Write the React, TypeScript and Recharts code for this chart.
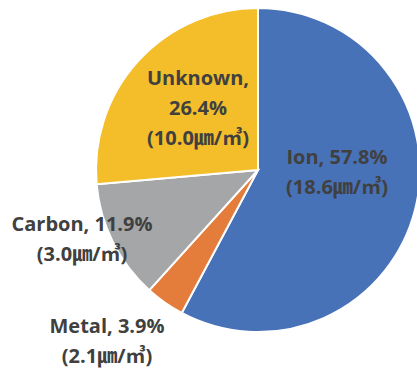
import React from "react";
import { PieChart, Pie, Cell } from "recharts";

// PM composition, clockwise from 12 o'clock
const categories = ["Ion", "Metal", "Carbon", "Unknown"];
const shares = [57.8, 3.9, 11.9, 26.4];
const concentrations = ["18.6", "2.1", "3.0", "10.0"];

const COLORS = ["#4872B8", "#E47C3B", "#A5A6A8", "#F4BD2A"];

// label block centre, relative to the pie centre
const LABEL_OFFSETS = [
  { dx: 79, dy: 1 },
  { dx: -151, dy: 170 },
  { dx: -176, dy: 68 },
  { dx: -60, dy: -63 },
];

const LINE_HEIGHT = 30;
const FONT = "'Open Sans', 'Noto Sans CJK KR', sans-serif";

const chartData = categories.map((name, i) => ({
  name,
  value: shares[i],
  conc: concentrations[i],
}));

const renderLabel = (props: any) => {
  const { cx, cy, index } = props;
  const d = chartData[index];
  const pct = `${d.value.toFixed(1)}%`;
  const unit = `(${d.conc}㎛/㎥)`;
  // Unknown sits in a narrow slice, so it wraps onto three lines
  const lines =
    index === 3 ? [`${d.name},`, pct, unit] : [`${d.name}, ${pct}`, unit];
  const off = LABEL_OFFSETS[index];
  const x = cx + off.dx;
  const top = cy + off.dy - ((lines.length - 1) * LINE_HEIGHT) / 2;
  return (
    <text
      key={`lbl-${index}`}
      x={x}
      y={top}
      textAnchor="middle"
      dominantBaseline="central"
      fill="#404040"
      fontFamily={FONT}
      fontSize={20}
      fontWeight={700}
    >
      {lines.map((ln, j) => (
        <tspan key={j} x={x} y={top + j * LINE_HEIGHT}>
          {ln}
        </tspan>
      ))}
    </text>
  );
};

export default function App() {
  return (
    <div
      style={{
        position: "absolute",
        left: 0,
        top: 0,
        width: 417,
        height: 372,
        background: "#fff",
        overflow: "hidden",
      }}
    >
      <PieChart
        width={417}
        height={372}
        margin={{ top: 0, right: 0, bottom: 0, left: 0 }}
      >
        <Pie
          data={chartData}
          dataKey="value"
          nameKey="name"
          cx={258}
          cy={170}
          outerRadius={162}
          startAngle={90}
          endAngle={-270}
          stroke="#fff"
          strokeWidth={2}
          label={renderLabel}
          labelLine={false}
          isAnimationActive={false}
        >
          {chartData.map((d, i) => (
            <Cell key={d.name} fill={COLORS[i]} />
          ))}
        </Pie>
      </PieChart>
    </div>
  );
}
